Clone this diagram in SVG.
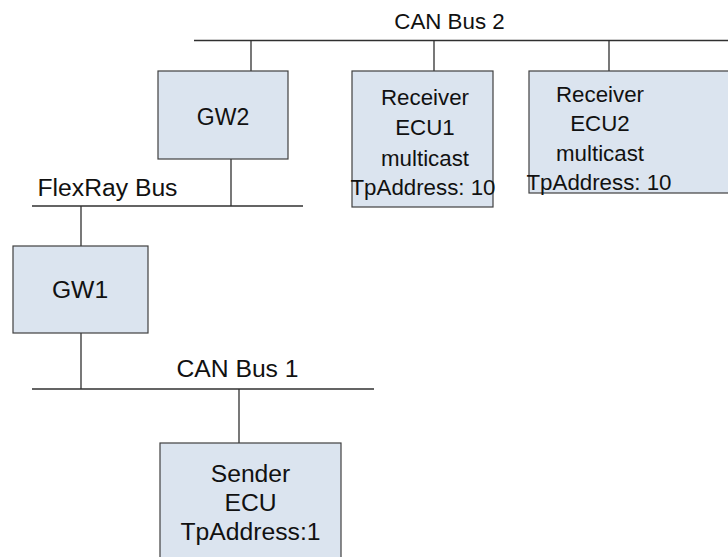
<svg xmlns="http://www.w3.org/2000/svg" width="728" height="557" viewBox="0 0 728 557">
<style>
.box{fill:#dbe4ef;stroke:#404040;stroke-width:1.2}
.ln{stroke:#303030;stroke-width:1.3;fill:none}
text{font-family:"Liberation Sans",Arial,sans-serif;fill:#111;text-anchor:middle}
.s{font-size:22.3px}
.g{font-size:23px}
.b{font-size:24.7px}
</style>
<rect width="728" height="557" fill="#fff"/>
<g id="connectors">
<line class="ln" x1="194" y1="40.5" x2="728" y2="40.5"/>
<line class="ln" x1="251" y1="40.5" x2="251" y2="71"/>
<line class="ln" x1="434" y1="40.5" x2="434" y2="71"/>
<line class="ln" x1="609" y1="40.5" x2="609" y2="71"/>
<line class="ln" x1="32" y1="206" x2="303" y2="206"/>
<line class="ln" x1="231" y1="159" x2="231" y2="206"/>
<line class="ln" x1="81" y1="206" x2="81" y2="246"/>
<line class="ln" x1="81" y1="333" x2="81" y2="389"/>
<line class="ln" x1="32" y1="389" x2="374" y2="389"/>
<line class="ln" x1="239" y1="389" x2="239" y2="443"/>
</g>
<g id="bus-labels">
<text class="s" x="449.5" y="29">CAN Bus 2</text>
<text class="b" x="107.5" y="196">FlexRay Bus</text>
<text class="b" x="237.5" y="377">CAN Bus 1</text>
</g>
<g id="gw2">
<rect class="box" x="158" y="71" width="130" height="88"/>
<text class="g" x="223" y="125">GW2</text>
</g>
<g id="receiver-ecu1">
<rect class="box" x="352" y="71" width="141" height="136"/>
<text class="s" x="425" y="105">Receiver</text>
<text class="s" x="425" y="135">ECU1</text>
<text class="s" x="425" y="165.5">multicast</text>
<text class="s" x="423" y="195">TpAddress: 10</text>
</g>
<g id="receiver-ecu2">
<rect class="box" x="529" y="71" width="220" height="122"/>
<text class="s" x="600" y="101.5">Receiver</text>
<text class="s" x="600" y="131">ECU2</text>
<text class="s" x="600" y="161">multicast</text>
<text class="s" x="599" y="190">TpAddress: 10</text>
</g>
<g id="gw1">
<rect class="box" x="13" y="246" width="135" height="87"/>
<text class="b" x="80" y="298">GW1</text>
</g>
<g id="sender-ecu">
<rect class="box" x="160" y="443" width="181" height="130"/>
<text class="b" x="250.5" y="482">Sender</text>
<text class="b" x="250.5" y="511">ECU</text>
<text class="b" x="250.5" y="540">TpAddress:1</text>
</g>
</svg>
